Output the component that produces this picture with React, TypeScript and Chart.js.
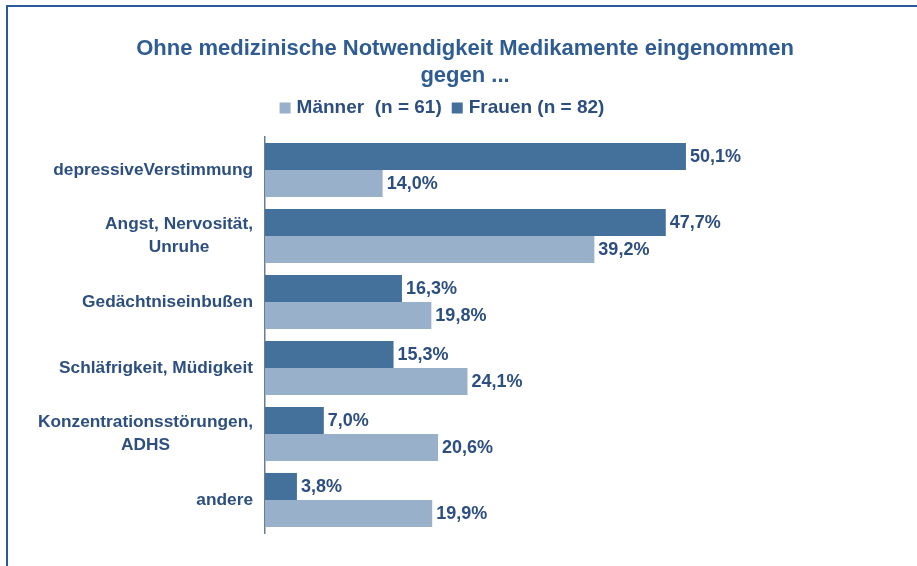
import React, { useEffect, useRef } from "react";
import { Chart, registerables } from "chart.js";

Chart.register(...registerables);

const categories: string[][] = [
  ["depressiveVerstimmung"],
  ["Angst, Nervosität,", "Unruhe"],
  ["Gedächtniseinbußen"],
  ["Schläfrigkeit, Müdigkeit"],
  ["Konzentrationsstörungen,", "ADHS"],
  ["andere"],
];
const frauenValues = [50.1, 47.7, 16.3, 15.3, 7.0, 3.8];
const maennerValues = [14.0, 39.2, 19.8, 24.1, 20.6, 19.9];
const titleLines = ["Ohne medizinische Notwendigkeit Medikamente eingenommen", "gegen ..."];
const frauenLabel = "Frauen (n = 82)";
const maennerLabel = "Männer  (n = 61)";

const FONT = '"Liberation Sans", Arial, sans-serif';
const TEXT_COLOR = "#2d4f80";
const FRAUEN_COLOR = "#44709c";
const MAENNER_COLOR = "#98b0ca";

const dataLabelPlugin = {
  id: "dataLabels",
  afterDatasetsDraw(chart: any) {
    const ctx = chart.ctx;
    ctx.save();
    ctx.font = `bold 18px ${FONT}`;
    ctx.fillStyle = TEXT_COLOR;
    ctx.textBaseline = "middle";
    ctx.textAlign = "left";
    chart.data.datasets.forEach((ds: any, di: number) => {
      const meta = chart.getDatasetMeta(di);
      meta.data.forEach((bar: any, i: number) => {
        const v = ds.data[i] as number;
        ctx.fillText(v.toFixed(1).replace(".", ",") + "%", bar.x + 4, bar.y + 1);
      });
    });
    ctx.restore();
  },
};

const yLabelPlugin = {
  id: "yLabels",
  afterDraw(chart: any) {
    const ctx = chart.ctx;
    const scale = chart.scales.y;
    const right = chart.chartArea.left - 12;
    const lineH = 23;
    ctx.save();
    ctx.font = `bold 17.3px ${FONT}`;
    ctx.fillStyle = TEXT_COLOR;
    ctx.textBaseline = "middle";
    ctx.textAlign = "center";
    categories.forEach((lines, i) => {
      const yc = scale.getPixelForValue(i);
      const w = Math.max(...lines.map((l) => ctx.measureText(l).width));
      const cx = right - w / 2;
      const y0 = yc - ((lines.length - 1) * lineH) / 2;
      lines.forEach((l, k) => ctx.fillText(l, cx, y0 + k * lineH));
    });
    ctx.restore();
  },
};

const legendPlugin = {
  id: "customLegend",
  afterDraw(chart: any) {
    const ctx = chart.ctx;
    const items = [
      { text: maennerLabel, color: MAENNER_COLOR },
      { text: frauenLabel, color: FRAUEN_COLOR },
    ];
    const box = 11;
    const gap = 6;
    const itemGap = 10;
    const cx = 442;
    const cy = 108;
    ctx.save();
    ctx.font = `bold 19px ${FONT}`;
    ctx.textBaseline = "middle";
    ctx.textAlign = "left";
    const widths = items.map((it) => box + gap + ctx.measureText(it.text).width);
    const total = widths.reduce((a, b) => a + b, 0) + itemGap * (items.length - 1);
    let x = cx - total / 2;
    items.forEach((it, i) => {
      ctx.fillStyle = it.color;
      ctx.fillRect(x, cy - box / 2, box, box);
      ctx.fillStyle = TEXT_COLOR;
      ctx.fillText(it.text, x + box + gap, cy);
      x += widths[i] + itemGap;
    });
    ctx.restore();
  },
};

export default function App() {
  const ref = useRef<HTMLCanvasElement | null>(null);
  useEffect(() => {
    if (!ref.current) return;
    const chart = new Chart(ref.current, {
      type: "bar",
      data: {
        labels: categories.map((c) => c.join(" ")),
        datasets: [
          {
            label: frauenLabel,
            data: frauenValues,
            backgroundColor: FRAUEN_COLOR,
            categoryPercentage: 0.82,
            barPercentage: 1.0,
          },
          {
            label: maennerLabel,
            data: maennerValues,
            backgroundColor: MAENNER_COLOR,
            categoryPercentage: 0.82,
            barPercentage: 1.0,
          },
        ],
      },
      options: {
        indexAxis: "y",
        responsive: false,
        animation: false,
        devicePixelRatio: 1,
        layout: { padding: { top: 35, left: 13, right: 0, bottom: 33 } },
        plugins: {
          title: {
            display: true,
            text: titleLines,
            color: "#2f5c93",
            font: { family: FONT, size: 22, weight: "bold", lineHeight: 1.25 },
            padding: { top: 0, bottom: 47 },
          },
          legend: { display: false },
          tooltip: { enabled: false },
        },
        scales: {
          x: { display: false, min: 0, max: 77.6 },
          y: {
            grid: { display: false },
            border: { display: true, color: "#6b7d96", width: 1.5 },
            ticks: { display: false },
            afterFit: (scale: any) => {
              scale.width = 252;
            },
          },
        },
      },
      plugins: [dataLabelPlugin, yLabelPlugin, legendPlugin],
    });
    return () => chart.destroy();
  }, []);

  return (
    <div style={{ position: "absolute", left: 0, top: 0, width: 917, height: 566, background: "#fff" }}>
      <canvas ref={ref} width={917} height={566} style={{ position: "absolute", left: 0, top: 0 }} />
      <div
        style={{
          position: "absolute",
          left: 6,
          top: 5,
          width: 911,
          height: 561,
          borderTop: "2px solid #2a5a9c",
          borderLeft: "2px solid #2a5a9c",
          boxSizing: "border-box",
          pointerEvents: "none",
        }}
      />
    </div>
  );
}
